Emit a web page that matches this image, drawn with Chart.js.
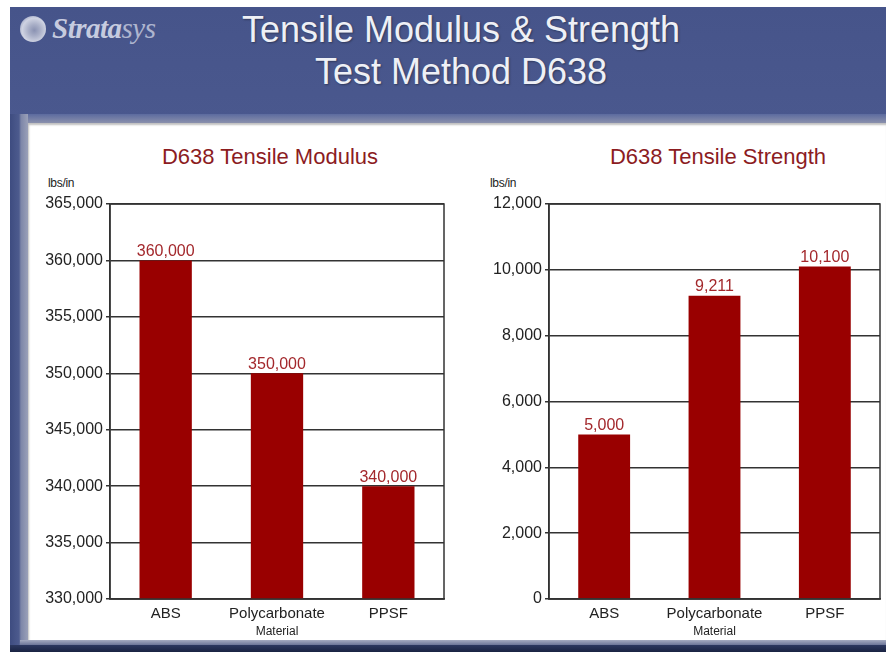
<!DOCTYPE html>
<html>
<head>
<meta charset="utf-8">
<script src="https://cdn.jsdelivr.net/npm/chart.js@4"></script>
<style>
  body { margin: 0; width: 886px; height: 652px; overflow: hidden; background: #fff;
    font-family: "Liberation Sans", Arial, sans-serif; }
  #slide { position: absolute; left: 10px; top: 7px; width: 876px; height: 645px;
    background: linear-gradient(180deg, #46548a 0%, #4f5d93 40%, #56659c 80%, #5c6b9f 100%); }
  #bevelTop { position: absolute; left: 10px; top: 114px; width: 876px; height: 9px;
    background: linear-gradient(180deg, #5c6b9f, #8a90ac); }
  #bevelLeft { position: absolute; left: 10px; top: 114px; width: 18px; height: 531px;
    background: linear-gradient(90deg, #3e4c80 0px, #4d5b8e 9px, #7d86a8 11px, #9aa0b8 18px); }
  #panel { position: absolute; left: 28px; top: 123px; width: 858px; height: 517px; background: #fff;
    box-shadow: inset 1px 2px 2px rgba(0,0,0,0.25); }
  #bevelBottom { position: absolute; left: 20px; top: 640px; width: 866px; height: 5px;
    background: linear-gradient(180deg, #a6acc2, #6c7598); }
  #bottom { position: absolute; left: 10px; top: 645px; width: 876px; height: 7px;
    background: linear-gradient(180deg, #2c3860, #1a2342); }
  .head { position: absolute; left: 0; width: 922px; text-align: center; color: #eef0f6;
    font-size: 36px; text-shadow: 1px 1px 2px rgba(0,0,0,0.35); }
  #logo { position: absolute; left: 20px; top: 12px; color: #c6cbdf; font-family: "Liberation Serif", serif;
    font-style: italic; font-weight: bold; font-size: 29px; letter-spacing: -0.5px; }
  #logo span.mark { display: inline-block; width: 26px; height: 26px; border-radius: 50%; vertical-align: -4px;
    background: radial-gradient(circle at 55% 55%, #8a92b2 0, #aab0c8 30%, #cfd3e2 60%, #6c78a6 100%); margin-right: 6px; }
  #logo span.light { font-weight: normal; color: #aeb5cf; }
  .ctitle { position: absolute; width: 300px; text-align: center; color: #8c1c1f; font-size: 22px; }
  .unit { position: absolute; font-size: 12px; color: #222; letter-spacing: -0.3px; }
  canvas { position: absolute; }
</style>
</head>
<body>
<div id="slide"></div>
<div id="bevelTop"></div>
<div id="bevelLeft"></div>
<div id="panel"></div>
<div id="bevelBottom"></div>
<div id="bottom"></div>
<div id="logo"><span class="mark"></span>Strata<span class="light">sys</span></div>
<div class="head" style="top:9px">Tensile Modulus &amp; Strength</div>
<div class="head" style="top:51px">Test Method D638</div>
<div class="ctitle" style="left:120px; top:144px">D638 Tensile Modulus</div>
<div class="ctitle" style="left:568px; top:144px">D638 Tensile Strength</div>
<div class="unit" style="left:48px; top:176px">lbs/in</div>
<div class="unit" style="left:490px; top:176px">lbs/in</div>
<canvas id="modulusChart" width="436" height="520" style="left:14px; top:125px"></canvas>
<canvas id="strengthChart" width="436" height="520" style="left:450px; top:125px"></canvas>
<script>
const materials = ['ABS', 'Polycarbonate', 'PPSF'];
const modulusValues = [360000, 350000, 340000];
const strengthValues = [5000, 9211, 10100];
const modulusRange = [330000, 365000, 5000];
const strengthRange = [0, 12000, 2000];

// box round the plot + value labels above each bar
const barLabels = {
    id: 'barLabels',
    afterDatasetsDraw(chart) {
        const ctx = chart.ctx;
        const a = chart.chartArea;
        ctx.save();
        ctx.strokeStyle = '#333';
        ctx.lineWidth = 1.5;
        ctx.strokeRect(a.left, a.top, a.right - a.left, a.bottom - a.top);
        ctx.fillStyle = '#a3282c';
        ctx.font = '16px "Liberation Sans", Arial';
        ctx.textAlign = 'center';
        ctx.textBaseline = 'bottom';
        chart.getDatasetMeta(0).data.forEach((bar, i) => {
            const v = chart.data.datasets[0].data[i];
            ctx.fillText(v.toLocaleString('en-US'), bar.x, bar.y - 1);
        });
        ctx.restore();
    }
};

function plotarGrafico(id, values, range, axisWidth) {
    const ctx = document.getElementById(id).getContext('2d');
    return new Chart(ctx, {
        type: 'bar',
        data: {
            labels: materials,
            datasets: [{
                data: values,
                backgroundColor: '#990000',
                barPercentage: 0.47,
                categoryPercentage: 1
            }]
        },
        options: {
            responsive: false,
            animation: false,
            layout: { padding: { top: 79, right: 6, left: 0, bottom: 6 } },
            plugins: { legend: { display: false }, tooltip: { enabled: false } },
            scales: {
                y: {
                    min: range[0],
                    max: range[1],
                    afterFit: s => { s.width = axisWidth; },
                    ticks: {
                        stepSize: range[2],
                        padding: 3,
                        color: '#222',
                        font: { family: '"Liberation Sans", Arial', size: 16 },
                        callback: v => v.toLocaleString('en-US')
                    },
                    grid: { color: '#333', lineWidth: 1.5, tickLength: 4 },
                    border: { color: '#333', width: 1.5 }
                },
                x: {
                    afterFit: s => { s.height = 40; },
                    grid: { display: false },
                    border: { color: '#333', width: 1.5 },
                    ticks: {
                        padding: -2,
                        color: '#222',
                        font: { family: '"Liberation Sans", Arial', size: 15 }
                    },
                    title: {
                        display: true,
                        text: 'Material',
                        color: '#222',
                        padding: 0,
                        font: { family: '"Liberation Sans", Arial', size: 12 }
                    }
                }
            }
        },
        plugins: [barLabels]
    });
}

window.onload = function () {
    plotarGrafico('modulusChart', modulusValues, modulusRange, 96);
    plotarGrafico('strengthChart', strengthValues, strengthRange, 99);
};
</script>
</body>
</html>
